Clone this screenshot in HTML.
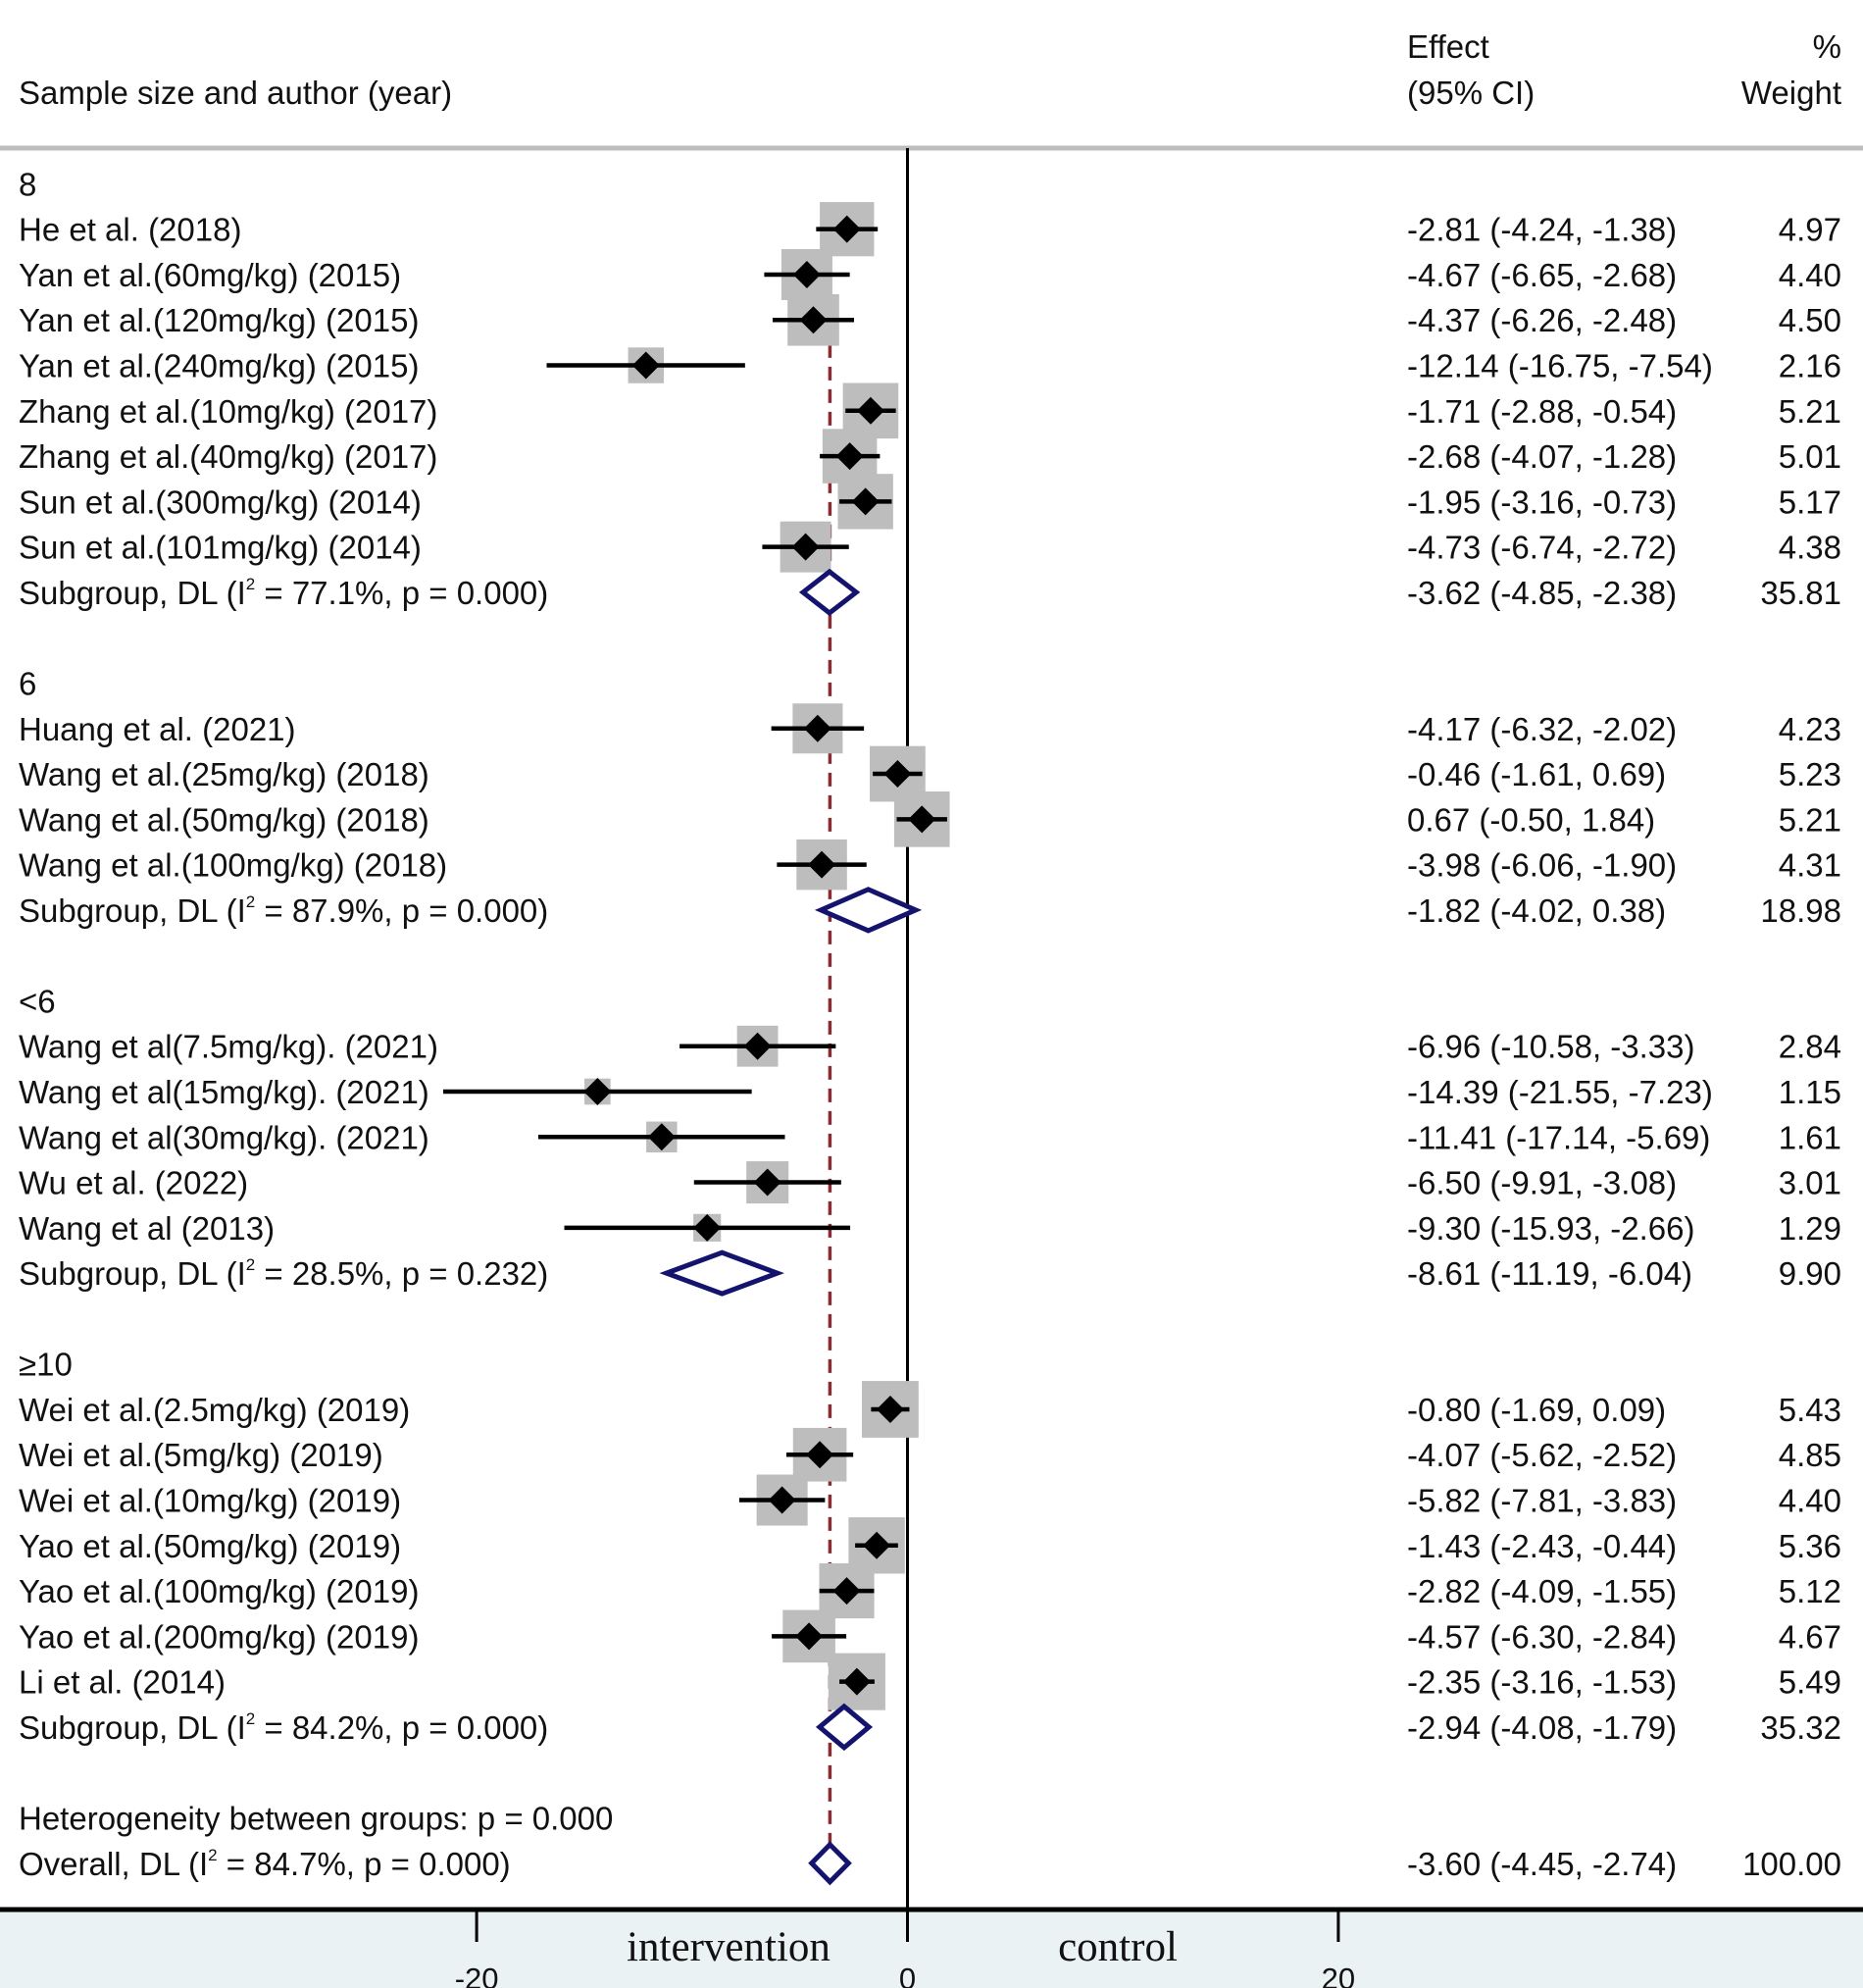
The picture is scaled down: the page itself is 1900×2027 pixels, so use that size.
<!DOCTYPE html>
<html><head><meta charset="utf-8"><style>
html,body{margin:0;padding:0;background:#fff;}
svg{display:block;font-family:"Liberation Sans",Arial,sans-serif;}
</style></head><body>
<svg id="chart" width="1900" height="2027" viewBox="0 0 1900 2027" xmlns="http://www.w3.org/2000/svg">
<rect x="0" y="0" width="1900" height="2027" fill="#fff"/>
<rect x="0" y="1947" width="1900" height="80" fill="#eaf2f3"/>
<line x1="0" y1="151" x2="1900" y2="151" stroke="#bdbdbd" stroke-width="5"/>
<text x="19" y="106" font-size="33" fill="#111">Sample size and author (year)</text>
<text x="1435" y="59" font-size="33" fill="#111">Effect</text>
<text x="1435" y="106" font-size="33" fill="#111">(95% CI)</text>
<text x="1878" y="59" font-size="33" fill="#111" text-anchor="end">%</text>
<text x="1878" y="106" font-size="33" fill="#111" text-anchor="end">Weight</text>
<g id="marks"></g>
<g id="texts"></g>
<line x1="0" y1="1947" x2="1900" y2="1947" stroke="#000" stroke-width="5"/>
<g id="axis"></g>
<text x="743" y="1999" font-size="43" font-family="'Liberation Serif',serif" text-anchor="middle" fill="#111">intervention</text>
<text x="1140" y="1999" font-size="43" font-family="'Liberation Serif',serif" text-anchor="middle" fill="#111">control</text>
</svg>
<script>
const labels = ["8","He et al. (2018)","Yan et al.(60mg/kg) (2015)","Yan et al.(120mg/kg) (2015)","Yan et al.(240mg/kg) (2015)","Zhang et al.(10mg/kg) (2017)","Zhang et al.(40mg/kg) (2017)","Sun et al.(300mg/kg) (2014)","Sun et al.(101mg/kg) (2014)","Subgroup, DL (I|2| = 77.1%, p = 0.000)","",
"6","Huang et al. (2021)","Wang et al.(25mg/kg) (2018)","Wang et al.(50mg/kg) (2018)","Wang et al.(100mg/kg) (2018)","Subgroup, DL (I|2| = 87.9%, p = 0.000)","",
"<6","Wang et al(7.5mg/kg). (2021)","Wang et al(15mg/kg). (2021)","Wang et al(30mg/kg). (2021)","Wu et al. (2022)","Wang et al (2013)","Subgroup, DL (I|2| = 28.5%, p = 0.232)","",
"≥10","Wei et al.(2.5mg/kg) (2019)","Wei et al.(5mg/kg) (2019)","Wei et al.(10mg/kg) (2019)","Yao et al.(50mg/kg) (2019)","Yao et al.(100mg/kg) (2019)","Yao et al.(200mg/kg) (2019)","Li et al. (2014)","Subgroup, DL (I|2| = 84.2%, p = 0.000)","",
"Heterogeneity between groups: p = 0.000","Overall, DL (I|2| = 84.7%, p = 0.000)"];
const rowTypes = ["h","s","s","s","s","s","s","s","s","g","b","h","s","s","s","s","g","b","h","s","s","s","s","s","g","b","h","s","s","s","s","s","s","s","g","b","h","o"];
const effects = [null,-2.81,-4.67,-4.37,-12.14,-1.71,-2.68,-1.95,-4.73,-3.62,null,null,-4.17,-0.46,0.67,-3.98,-1.82,null,null,-6.96,-14.39,-11.41,-6.50,-9.30,-8.61,null,null,-0.80,-4.07,-5.82,-1.43,-2.82,-4.57,-2.35,-2.94,null,null,-3.60];
const lower = [null,-4.24,-6.65,-6.26,-16.75,-2.88,-4.07,-3.16,-6.74,-4.85,null,null,-6.32,-1.61,-0.50,-6.06,-4.02,null,null,-10.58,-21.55,-17.14,-9.91,-15.93,-11.19,null,null,-1.69,-5.62,-7.81,-2.43,-4.09,-6.30,-3.16,-4.08,null,null,-4.45];
const upper = [null,-1.38,-2.68,-2.48,-7.54,-0.54,-1.28,-0.73,-2.72,-2.38,null,null,-2.02,0.69,1.84,-1.90,0.38,null,null,-3.33,-7.23,-5.69,-3.08,-2.66,-6.04,null,null,0.09,-2.52,-3.83,-0.44,-1.55,-2.84,-1.53,-1.79,null,null,-2.74];
const weights = [null,4.97,4.40,4.50,2.16,5.21,5.01,5.17,4.38,35.81,null,null,4.23,5.23,5.21,4.31,18.98,null,null,2.84,1.15,1.61,3.01,1.29,9.90,null,null,5.43,4.85,4.40,5.36,5.12,4.67,5.49,35.32,null,null,100.00];
const overallEffect = -3.60;
const xTicks = [-20,0,20];

const NS="http://www.w3.org/2000/svg";
const x = v => 925.5 + v*21.97;
const y = i => 187.4 + i*46.28;
const marks=document.getElementById('marks'), texts=document.getElementById('texts'), axis=document.getElementById('axis');
function mk(tag, attrs, parent){const e=document.createElementNS(NS,tag);for(const k in attrs)e.setAttribute(k,attrs[k]);parent.appendChild(e);return e;}
function fmt(v){return v.toFixed(2);}

let l=mk('line',{x1:x(0),y1:151,x2:x(0),y2:1947,stroke:'#000','stroke-width':3},marks);


l=mk('line',{x1:x(overallEffect),y1:y(0.55),x2:x(overallEffect),y2:y(37),stroke:'#8b2b33','stroke-width':3.5,'stroke-dasharray':'14 9'},marks);



const sq=[];
labels.forEach((lab,i)=>{
  const t=rowTypes[i], yy=y(i);
  if(lab){
    const tx=mk('text',{x:19,y:yy+12,'font-size':33,fill:'#111'},texts);
    
    
    const parts=lab.split('|');
    parts.forEach((p,k)=>{const ts=mk('tspan',k===1?{'font-size':17,dy:-15}:(k===2?{dy:15}:{}),tx);ts.textContent=p;});
  }
  if(effects[i]===null) return;
  const e=effects[i], lo=lower[i], hi=upper[i], w=weights[i];
  if(t==='s'){
    const s=24.8*Math.sqrt(w);
    const r=mk('rect',{x:x(e)-s/2,y:yy-s/2,width:s,height:s,fill:'#bdbdbd'},marks);
    
    
    sq.push([e,lo,hi,yy]);
  } else {
    const h=t==='o'?19:21;
    const p=mk('polygon',{points:`${x(lo)},${yy} ${x(e)},${yy-h} ${x(hi)},${yy} ${x(e)},${yy+h}`,fill:'#fff',stroke:'#14146e','stroke-width':5},marks);
    
    
  }
  const et=mk('text',{x:1435,y:yy+12,'font-size':33,fill:'#111'},texts);
  et.textContent=`${fmt(e)} (${fmt(lo)}, ${fmt(hi)})`;
  
  
  const wt=mk('text',{x:1878,y:yy+12,'font-size':33,fill:'#111','text-anchor':'end'},texts);
  wt.textContent=fmt(w);
  
  
});
sq.forEach(([e,lo,hi,yy])=>{
  const c=mk('line',{x1:x(lo),y1:yy,x2:x(hi),y2:yy,stroke:'#000','stroke-width':4.5},marks);
  
  
  const d=mk('polygon',{points:`${x(e)-14},${yy} ${x(e)},${yy-14} ${x(e)+14},${yy} ${x(e)},${yy+14}`,fill:'#000'},marks);
  
  
});
xTicks.forEach(v=>{
  const tk=mk('line',{x1:x(v),y1:1947,x2:x(v),y2:1980,stroke:'#000','stroke-width':3},axis);
  
  
  const tl=mk('text',{x:x(v),y:2028,'font-size':31,'text-anchor':'middle',fill:'#111'},axis);
  tl.textContent=String(v);
  
  
});
</script>
</body></html>
